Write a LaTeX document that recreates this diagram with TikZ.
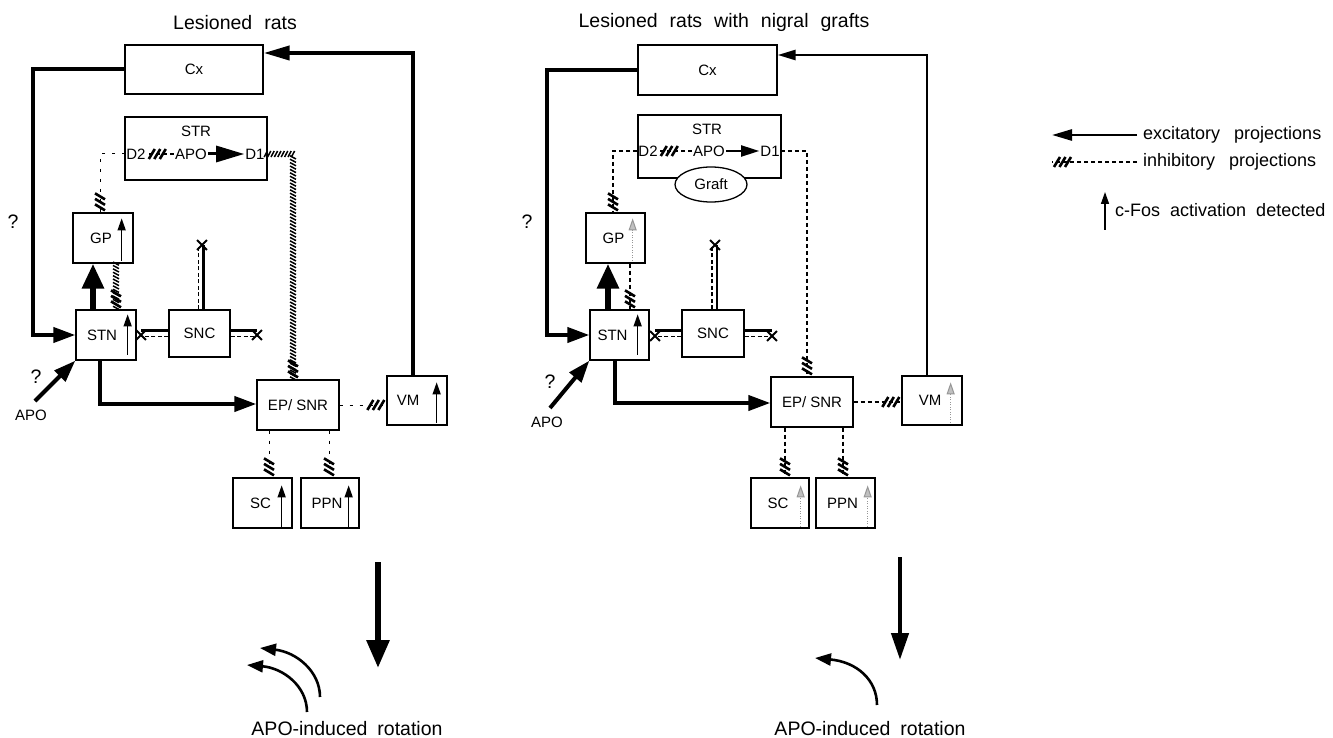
\documentclass[tikz,border=0pt]{standalone}
\usepackage{fontspec}
\setmainfont{Liberation Sans}
\usepackage{xcolor}
\definecolor{fosgray}{RGB}{150,150,150}
\usetikzlibrary{arrows.meta,positioning,calc,shapes.geometric,shapes.misc,decorations.markings}
\newcommand\hatchmk{\draw[solid,line width=2.6pt,line cap=butt] (-19pt,-5pt)--(-13pt,5pt) (-13.5pt,-5pt)--(-7.5pt,5pt) (-8pt,-5pt)--(-2pt,5pt);}
\newcommand\wgap{\hspace{12pt}}

\begin{document}
\begin{tikzpicture}[x=1pt,y=-1pt,
  bx/.style={draw,line width=1.3pt,minimum width=60pt,minimum height=50pt,inner sep=0pt,font=\fontsize{15}{17}\selectfont},
  lbl/.style={inner sep=1pt,font=\fontsize{15}{17}\selectfont},
  txt/.style={inner sep=0pt,font=\fontsize{18}{21}\selectfont},
  ttl/.style={inner sep=0pt,font=\fontsize{19.5}{23}\selectfont},
  exc/.style={line width=4pt,-{Triangle[length=22pt,width=15pt]}},
  excw/.style={line width=2.6pt,-{Triangle[length=18pt,width=10pt]}},
  excb/.style={line width=6pt,-{Triangle[length=25pt,width=21pt]}},
  hatch/.style={postaction={decorate},decoration={markings,mark=at position 1 with {\hatchmk}}},
  inh/.style={line width=1.6pt,dash pattern=on 4pt off 3pt,hatch},
  inhw/.style={line width=1pt,dash pattern=on 3pt off 7pt,hatch},
  inhs/.style={postaction={decorate},decoration={markings,
    mark=between positions 0 and 1 step 3.4pt with {\draw[line width=1.5pt] (-1.6pt,-3pt)--(1.6pt,3pt);},
    mark=at position 1 with {\hatchmk}}},
  les/.style={line width=2.2pt},
  lesd/.style={line width=1.6pt,dash pattern=on 4pt off 2.5pt},
  xmk/.style={cross out,draw,line width=1.8pt,minimum size=8pt,inner sep=0pt},
  fos/.style={line width=1.5pt,-{Triangle[length=12pt,width=8pt]}},
  fosg/.style={fosgray,line width=1pt,dash pattern=on 1pt off 1.5pt,-{Triangle[length=12pt,width=8pt,fill=fosgray!60]}},
  rot/.style={line width=2.6pt,-{Triangle[length=16pt,width=12pt]}},
]
\useasboundingbox (0,0) rectangle (1333,738);

% left: lesioned rats
\node[ttl] (ttlL) at (235,23) {Lesioned\wgap rats};
\node[bx,minimum width=138pt,minimum height=49pt] (cxL) at (194,69.5) {Cx};
\node[bx,minimum width=142pt,minimum height=63pt] (strL) at (196,148.5) {};
\node[lbl] (strtL) at (196,131) {STR};
\node[lbl] (d2L) at (136,154) {D2};
\node[lbl] (apoL) at (191,154) {APO};
\node[lbl] (d1L) at (255,154) {D1};
\node[bx] (gpL) at (103,238) {GP\hspace*{4pt}};
\node[bx] (stnL) at (106,335) {STN\hspace*{8pt}};
\node[bx,minimum width=61pt,minimum height=47pt] (sncL) at (199.5,333.5) {SNC};
\node[bx,minimum width=82pt] (epL) at (298,405) {EP/ SNR};
\node[bx,minimum height=49pt] (vmL) at (417,400.5) {VM\hspace*{18pt}};
\node[bx,minimum width=59pt] (scL) at (262.5,503) {SC\hspace*{4pt}};
\node[bx,minimum width=58pt] (ppnL) at (330,503) {PPN\hspace*{6pt}};
\node[ttl] (q1L) at (13,222) {?};
\node[ttl] (q2L) at (36,377) {?};
\node[lbl] (apxL) at (31,415) {APO};

\coordinate (lpL) at (33,70);
\coordinate (tpL) at (413,53);
\coordinate (bL) at (100,404);
\coordinate (apotL) at (35,401);
\coordinate (d1cL) at (293,154);
\coordinate (d2cL) at (100,154);
\draw[exc] (cxL.west) -- (cxL.west -| lpL) -- (lpL |- stnL.west) -- (stnL.west);
\draw[exc,-{Triangle[length=26pt,width=14pt]}] (vmL.north -| tpL) -- (tpL) -- (tpL -| cxL.east);
\draw[excb] ([xshift=-13pt]stnL.north) -- ([xshift=-13pt]stnL.north |- gpL.south);
\path[inhs] ([xshift=13pt]gpL.south) -- ([xshift=13pt]gpL.south |- stnL.north);
\draw[exc] (stnL.south -| bL) -- (bL) -- (bL -| epL.west);
\draw[exc] (apotL) -- (stnL.south west);
\draw[exc,line width=3pt,-{Triangle[length=28pt,width=16pt]}] (apoL.east) -- (d1L.west);
\draw[inh] (apoL.west) -- (d2L.east);
\draw[inhw] (d2L.west) -- (d2cL) -- (d2cL |- gpL.north);
\path[inhs] (d1L.east) -- (d1cL) -- (d1cL |- epL.north);
\draw[inhw] (epL.east) -- (epL.east -| vmL.west);
\draw[inhw] ([xshift=-29pt]epL.south) -- ([xshift=-29pt]epL.south |- scL.north);
\draw[inhw] ([xshift=31pt]epL.south) -- ([xshift=31pt]epL.south |- ppnL.north);

\node[xmk] (xaL) at (141,335) {};
\node[xmk] (xbL) at (257,335) {};
\node[xmk] (xcL) at (202,245) {};
\draw[les] ([yshift=3pt]sncL.west) -- ([yshift=3pt]sncL.west -| xaL);
\draw[lesd] ([yshift=-3pt]sncL.west) -- ([yshift=-3pt]sncL.west -| xaL);
\draw[les] ([yshift=3pt]sncL.east) -- ([yshift=3pt]sncL.east -| xbL);
\draw[lesd] ([yshift=-3pt]sncL.east) -- ([yshift=-3pt]sncL.east -| xbL);
\draw[les] ([xshift=4pt]sncL.north) -- ([xshift=4pt]sncL.north |- xcL);
\draw[lesd] ([xshift=-1pt]sncL.north) -- ([xshift=-1pt]sncL.north |- xcL);

\draw[fos] ([xshift=-12pt,yshift=3pt]gpL.south east) -- ([xshift=-12pt,yshift=-6pt]gpL.north east);
\draw[fos] ([xshift=-9pt,yshift=6pt]stnL.south east) -- ([xshift=-9pt,yshift=-5pt]stnL.north east);
\draw[fos] ([xshift=-11pt,yshift=3pt]vmL.south east) -- ([xshift=-11pt,yshift=-7pt]vmL.north east);
\draw[fos] ([xshift=-11pt,yshift=2pt]scL.south east) -- ([xshift=-11pt,yshift=-8pt]scL.north east);
\draw[fos] ([xshift=-11pt,yshift=2pt]ppnL.south east) -- ([xshift=-11pt,yshift=-8pt]ppnL.north east);

\coordinate (raL) at (378,562);
\coordinate (rbL) at (378,668);
\draw[line width=6pt,-{Triangle[length=28pt,width=22pt]}] (raL) -- (rbL);
\coordinate (c1aL) at (307,712);
\coordinate (c1bL) at (247,665);
\coordinate (c2aL) at (320,697);
\coordinate (c2bL) at (260,648);
\draw[rot] (c1aL) .. controls +(0,-26) and +(36,3) .. (c1bL);
\draw[rot] (c2aL) .. controls +(0,-26) and +(36,4) .. (c2bL);
\node[ttl] (rotL) at (347,729) {APO-induced\hspace{10pt}rotation};

% right: lesioned rats with nigral grafts
\node[ttl] (ttlR) at (724,22) {Lesioned\wgap rats\wgap with\wgap nigral\wgap grafts};
\node[bx,minimum width=139pt,minimum height=50pt] (cxR) at (707.5,70) {Cx};
\node[bx,minimum width=143pt,minimum height=63pt] (strR) at (709.5,146.5) {};
\node[lbl] (strtR) at (707,129) {STR};
\node[lbl] (d2R) at (648,151) {D2};
\node[lbl] (apoR) at (709,151) {APO};
\node[lbl] (d1R) at (770,151) {D1};
\node[ellipse,draw,fill=white,line width=1.3pt,minimum width=72pt,minimum height=35pt,inner sep=0pt,font=\fontsize{15}{17}\selectfont] (graftR) at (711,184.5) {Graft};
\node[bx,minimum width=59pt] (gpR) at (615.5,238) {GP\hspace*{4pt}};
\node[bx,minimum width=59pt] (stnR) at (619.5,335) {STN\hspace*{14pt}};
\node[bx,minimum width=62pt,minimum height=47pt] (sncR) at (713,333.5) {SNC};
\node[bx,minimum width=82pt] (epR) at (812,402) {EP/ SNR};
\node[bx,minimum height=49pt] (vmR) at (932,400.5) {VM\hspace*{4pt}};
\node[bx,minimum width=58pt] (scR) at (780,503) {SC\hspace*{4pt}};
\node[bx,minimum width=59pt] (ppnR) at (845.5,503) {PPN\hspace*{6pt}};
\node[ttl] (q1R) at (527,222) {?};
\node[ttl] (q2R) at (550,382) {?};
\node[lbl] (apxR) at (547,422) {APO};

\coordinate (lpR) at (547,70);
\coordinate (tpR) at (927,55);
\coordinate (bR) at (615,403);
\coordinate (apotR) at (550,408);
\coordinate (d1cR) at (807,151);
\coordinate (d2cR) at (613,151);
\draw[exc] (cxR.west) -- (cxR.west -| lpR) -- (lpR |- stnR.west) -- (stnR.west);
\draw[excw] (vmR.north -| tpR) -- (tpR) -- (tpR -| cxR.east);
\draw[excb] ([xshift=-11.5pt]stnR.north) -- ([xshift=-11.5pt]stnR.north |- gpR.south);
\draw[inh] ([xshift=14.5pt]gpR.south) -- ([xshift=14.5pt]gpR.south |- stnR.north);
\draw[exc] (stnR.south -| bR) -- (bR) -- (bR -| epR.west);
\draw[exc] (apotR) -- (stnR.south west);
\draw[exc,line width=2pt,-{Triangle[length=18pt,width=11pt]}] (apoR.east) -- (d1R.west);
\draw[inh] (apoR.west) -- (d2R.east);
\draw[inh] (d2R.west) -- (d2cR) -- (d2cR |- gpR.north);
\draw[inh] (d1R.east) -- (d1cR) -- (d1cR |- epR.north);
\draw[inh] (epR.east) -- (epR.east -| vmR.west);
\draw[inh] ([xshift=-27pt]epR.south) -- ([xshift=-27pt]epR.south |- scR.north);
\draw[inh] ([xshift=31pt]epR.south) -- ([xshift=31pt]epR.south |- ppnR.north);

\node[xmk] (xaR) at (655,336) {};
\node[xmk] (xbR) at (772,336) {};
\node[xmk] (xcR) at (715,245) {};
\draw[les] ([yshift=3pt]sncR.west) -- ([yshift=3pt]sncR.west -| xaR);
\draw[lesd] ([yshift=-3pt]sncR.west) -- ([yshift=-3pt]sncR.west -| xaR);
\draw[les] ([yshift=3pt]sncR.east) -- ([yshift=3pt]sncR.east -| xbR);
\draw[lesd] ([yshift=-3pt]sncR.east) -- ([yshift=-3pt]sncR.east -| xbR);
\draw[les] ([xshift=4pt]sncR.north) -- ([xshift=4pt]sncR.north |- xcR);
\draw[lesd] ([xshift=-1pt]sncR.north) -- ([xshift=-1pt]sncR.north |- xcR);

\draw[fosg] ([xshift=-13pt,yshift=3pt]gpR.south east) -- ([xshift=-13pt,yshift=-6pt]gpR.north east);
\draw[fos] ([xshift=-12pt,yshift=6pt]stnR.south east) -- ([xshift=-12pt,yshift=-5pt]stnR.north east);
\draw[fosg] ([xshift=-12pt,yshift=3pt]vmR.south east) -- ([xshift=-12pt,yshift=-7pt]vmR.north east);
\draw[fosg] ([xshift=-9pt,yshift=2pt]scR.south east) -- ([xshift=-9pt,yshift=-8pt]scR.north east);
\draw[fosg] ([xshift=-8pt,yshift=2pt]ppnR.south east) -- ([xshift=-8pt,yshift=-8pt]ppnR.north east);

\coordinate (raR) at (900,557);
\coordinate (rbR) at (900,660);
\draw[line width=4.5pt,-{Triangle[length=27pt,width=17pt]}] (raR) -- (rbR);
\coordinate (c1aR) at (877,705);
\coordinate (c1bR) at (815,658);
\draw[rot] (c1aR) .. controls +(0,-25) and +(42,4) .. (c1bR);
\node[ttl] (rotR) at (870,729) {APO-induced\hspace{10pt}rotation};

% legend
\coordinate (lg1a) at (1137,135);
\coordinate (lg1b) at (1052,135);
\coordinate (lg2a) at (1137,162);
\coordinate (lg2b) at (1052,162);
\coordinate (lg3a) at (1105,230);
\coordinate (lg3b) at (1105,192);
\draw[line width=2.6pt,-{Triangle[length=20pt,width=11pt]}] (lg1a) -- (lg1b);
\draw[inh] (lg2a) -- (lg2b);
\draw[fos] (lg3a) -- (lg3b);
\node[txt,anchor=west] (lgt1) at (1143,135) {excitatory\hspace{14pt}projections};
\node[txt,anchor=west] (lgt2) at (1143,162) {inhibitory\hspace{14pt}projections};
\node[txt,anchor=west] (lgt3) at (1115,210) {c-Fos\hspace{10pt}activation\hspace{10pt}detected};
\end{tikzpicture}
\end{document}
